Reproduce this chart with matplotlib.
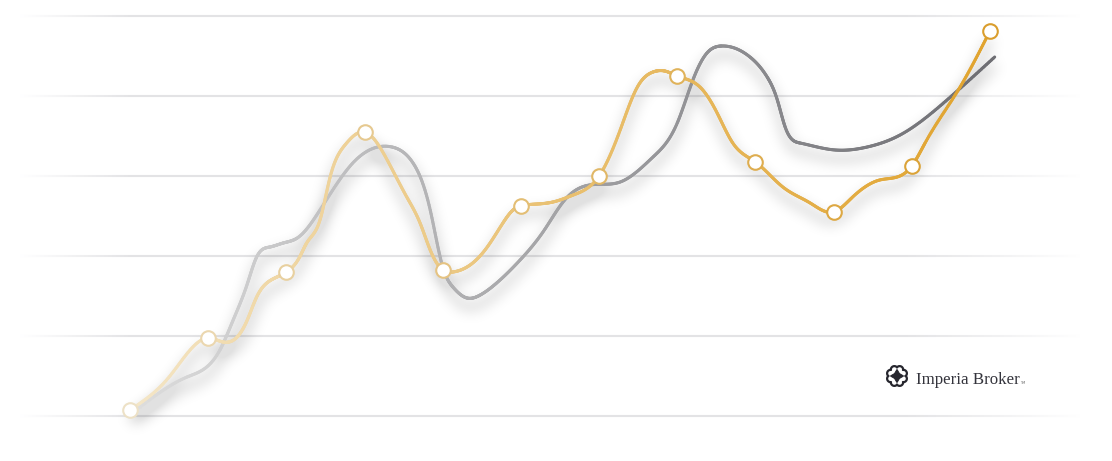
import numpy as np
import matplotlib
matplotlib.use("Agg")
import matplotlib.pyplot as plt
from matplotlib.collections import LineCollection
from matplotlib.patches import Polygon

# ---------------- data ----------------
periods = list(range(12))
gold_marker_values = [1.5, 19.5, 36, 71, 36.5, 52.5, 60, 85, 63.5, 51, 62.5, 96.25]

# gold curve as read along its path (period position, value)
gold_curve_positions = [0, 0.50, 1, 1.19, 1.37, 1.50, 1.62, 1.75, 1.88, 2, 2.17, 2.26, 2.43,
                        2.56, 2.75, 3, 3.29, 3.54, 3.71, 3.84, 4, 4.13, 4.35, 4.57, 4.77,
                        4.90, 5, 5.21, 5.41, 5.67, 6, 6.27, 6.49, 6.69, 6.84, 7, 7.29,
                        7.51, 7.71, 8, 8.35, 8.70, 9, 9.23, 9.59, 10, 10.17, 10.61, 11]
gold_curve_values = [1.5, 9.75, 19.5, 18.5, 19.75, 24, 29.75, 33.25, 34.75, 36, 39.75, 43.25,
                     49, 59.75, 67.75, 71, 64, 54.75, 48.25, 41.5, 36.5, 36, 37.75, 42.25,
                     48.25, 51.5, 52.5, 53, 53.5, 55.25, 60, 71.5, 82.25, 86, 86.25, 85,
                     82.25, 75.75, 68.25, 63.5, 57.25, 53.25, 51, 54.5, 59, 62.5, 68.25,
                     82, 96.25]

# gray curve as read along its path (period position, value)
gray_positions = [0.06, 0.73, 1.15, 1.32, 1.50, 1.62, 1.79, 1.96, 2.14, 2.43, 2.85, 3.35,
                  3.62, 3.84, 4.00, 4.13, 4.31, 4.48, 4.69, 4.99, 5.30, 5.56, 5.88, 6.27,
                  6.69, 7.00, 7.20, 7.38, 7.57, 7.93, 8.15, 8.28, 8.38, 8.57, 9.02, 9.43,
                  9.85, 10.45, 11.06]
gray_values = [1.25, 9.75, 16.5, 24, 33, 39.75, 42.25, 43.25, 44.5, 51.5, 63.25, 67.25,
               63.25, 51.5, 37.25, 32.25, 29.5, 30.25, 33.25, 39, 46.5, 54, 57.75, 58.5,
               64.75, 73.25, 84, 90.75, 92.5, 89.75, 84.75, 79, 72.25, 68.25, 66.5, 67.25,
               70.25, 79, 89.75]

grid_values = [0, 20, 40, 60, 80, 100]
brand = "Imperia Broker"

# ---------------- geometry ----------------
W, H = 1112, 461
SX = 78.18   # px per period
SY = 4.0     # px per value unit
X0_PX = 130
Y0_PX = 416

fig = plt.figure(figsize=(W / 100, H / 100), dpi=100)
ax = fig.add_axes([0, 0, 1, 1])
XL = (-X0_PX / SX, (W - X0_PX) / SX)
YL = (-(H - Y0_PX) / SY, Y0_PX / SY)
ax.set_xlim(*XL)
ax.set_ylim(*YL)
ax.axis("off")


def natural_spline(xs, ys, n=30):
    x = np.asarray(xs, float)
    y = np.asarray(ys, float)
    N = len(x)
    h = np.diff(x)
    A = np.zeros((N, N))
    b = np.zeros(N)
    A[0, 0] = 1
    A[-1, -1] = 1
    for i in range(1, N - 1):
        A[i, i - 1] = h[i - 1]
        A[i, i] = 2 * (h[i - 1] + h[i])
        A[i, i + 1] = h[i]
        b[i] = 3 * ((y[i + 1] - y[i]) / h[i] - (y[i] - y[i - 1]) / h[i - 1])
    c = np.linalg.solve(A, b)
    xo, yo = [], []
    for i in range(N - 1):
        bb = (y[i + 1] - y[i]) / h[i] - h[i] * (2 * c[i] + c[i + 1]) / 3
        d = (c[i + 1] - c[i]) / (3 * h[i])
        t = np.linspace(0, h[i], n)
        if i > 0:
            t = t[1:]
        xo.append(x[i] + t)
        yo.append(y[i] + bb * t + c[i] * t ** 2 + d * t ** 3)
    return np.concatenate(xo), np.concatenate(yo)


def grad_color(x, c0, c1, gamma=1.0):
    t = np.clip(x / 11.0, 0, 1) ** gamma
    c0 = np.array(c0)
    c1 = np.array(c1)
    return c0 + (c1 - c0) * t


def draw_gradient_line(x, y, c0, c1, lw, z, gamma=1.0):
    pts = np.column_stack([x, y])
    segs = np.stack([pts[:-1], pts[1:]], axis=1)
    mid = (x[:-1] + x[1:]) / 2
    cols = [grad_color(m, c0, c1, gamma) for m in mid]
    lc = LineCollection(segs, colors=cols, linewidths=lw, capstyle="round",
                        joinstyle="round", zorder=z)
    ax.add_collection(lc)


def gauss_blur(img, sigma):
    r = int(3 * sigma)
    k = np.exp(-0.5 * (np.arange(-r, r + 1) / sigma) ** 2)
    k /= k.sum()
    img = np.apply_along_axis(lambda m: np.convolve(m, k, mode="same"), 0, img)
    img = np.apply_along_axis(lambda m: np.convolve(m, k, mode="same"), 1, img)
    return img


def shadow_layer(curves, dy_px=9, sigma=7.0, strength=0.075):
    acc = np.zeros((H, W))
    for (x, y) in curves:
        pxs = X0_PX + x * SX
        pys = Y0_PX - y * SY + dy_px
        seg = np.hypot(np.diff(pxs), np.diff(pys))
        s = np.concatenate([[0], np.cumsum(seg)])
        ss = np.arange(0, s[-1], 0.7)
        qx = np.interp(ss, s, pxs)
        qy = np.interp(ss, s, pys)
        ix = np.clip(np.round(qx).astype(int), 0, W - 1)
        iy = np.clip(np.round(qy).astype(int), 0, H - 1)
        np.add.at(acc, (iy, ix), 0.7)
    acc = gauss_blur(acc, sigma)
    acc /= 1.0 / (np.sqrt(2 * np.pi) * sigma)
    alpha = strength * np.clip(acc, 0, 1.6)
    rgba = np.zeros((H, W, 4))
    rgba[..., 3] = alpha
    ax.imshow(rgba, extent=(XL[0], XL[1], YL[0], YL[1]), origin="upper",
              aspect="auto", zorder=2, interpolation="bilinear")


# ---------------- grid lines (fading at both ends) ----------------
grid_rgb = np.array([0.89, 0.89, 0.898])
px = np.arange(0, W + 4, 4)
fade = np.clip((px - 20) / 110, 0, 1) * np.clip((1085 - px) / 180, 0, 1)
xd = (px - X0_PX) / SX
for gv in grid_values:
    segs = [[(xd[i], gv), (xd[i + 1], gv)] for i in range(len(xd) - 1)]
    f = (fade[:-1] + fade[1:]) / 2
    cols = [1 - (1 - grid_rgb) * fi for fi in f]
    ax.add_collection(LineCollection(segs, colors=cols, linewidths=1.5, zorder=1))

# ---------------- series ----------------
gold0 = (0.960, 0.910, 0.800)
gold1 = (0.880, 0.640, 0.180)
gray0 = (0.875, 0.875, 0.875)
gray1 = (0.430, 0.430, 0.450)

gx, gy = natural_spline(gray_positions, gray_values)
ox, oy = natural_spline(gold_curve_positions, gold_curve_values)

shadow_layer([(gx, gy), (ox, oy)])
draw_gradient_line(gx, gy, gray0, gray1, 2.2, 3, gamma=0.9)
draw_gradient_line(ox, oy, gold0, gold1, 2.2, 4, gamma=0.8)

for p, v in zip(periods, gold_marker_values):
    ec = grad_color(p, gold0, gold1, 0.8) * 0.97
    ax.plot([p], [v], marker="o", markersize=10.5, markerfacecolor="white",
            markeredgecolor=ec, markeredgewidth=1.5, zorder=5, linestyle="none")

# ---------------- logo ----------------
def pxd(xp, yp):
    return (xp - X0_PX) / SX, (Y0_PX - yp) / SY

cx, cy = 897, 376
th = np.linspace(0, 2 * np.pi, 400)
rr = 8.3 + 2.1 * np.abs(np.cos(4 * th + np.pi / 2)) ** 0.6
flower = [pxd(cx + ri * np.cos(a), cy + ri * np.sin(a)) for ri, a in zip(rr, th)]
ax.add_patch(Polygon(flower, closed=True, fill=False, edgecolor="#26262e", lw=1.6,
                     joinstyle="round", zorder=6))
ang2 = np.linspace(0, 2 * np.pi, 9)[:-1] + np.pi / 2
r2 = np.where(np.arange(8) % 2 == 0, 6.5, 3.4)
dia = [pxd(cx + ri * np.cos(a), cy + ri * np.sin(a)) for ri, a in zip(r2, ang2)]
ax.add_patch(Polygon(dia, closed=True, facecolor="#26262e", edgecolor="#26262e",
                     lw=0.8, zorder=6))

tx, ty = pxd(916, 384)
ax.text(tx, ty, brand, family="Liberation Serif", fontsize=12.2, color="#34343c",
        ha="left", va="baseline", zorder=6)
tmx, tmy = pxd(1020, 384)
ax.text(tmx, tmy, "TM", family="DejaVu Sans", fontsize=2.6, color="#666666",
        ha="left", va="baseline", zorder=6)

fig.savefig("out.png", dpi=100, facecolor="white")
